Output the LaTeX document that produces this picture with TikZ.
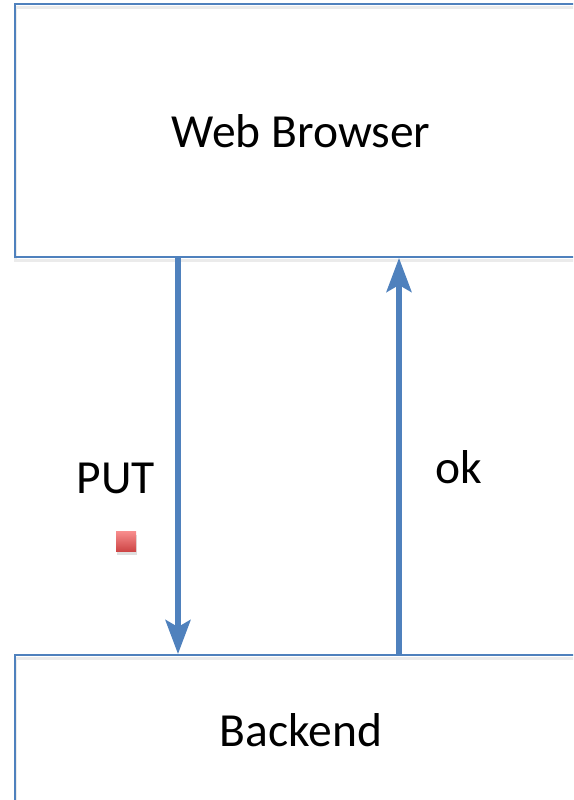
\documentclass[tikz,border=0pt]{standalone}
\usepackage{fontspec}
\setmainfont{Carlito}
\usetikzlibrary{arrows.meta,shadows}
\definecolor{boxblue}{RGB}{79,129,189}
\definecolor{tokentop}{RGB}{248,142,142}
\definecolor{tokenbot}{RGB}{206,70,70}
\tikzset{
  unit/.style={draw=boxblue, line width=2pt, inner sep=0pt, minimum width=573pt,
    preaction={draw=black!8, line width=3pt, transform canvas={shift={(1pt,-3pt)}}}},
  flow/.style={draw=boxblue, line width=5.5pt, -{Stealth[length=34pt,width=25pt,inset=7pt]}},
  token/.style={minimum size=20pt, inner sep=0pt, top color=tokentop, bottom color=tokenbot,
    drop shadow={opacity=0.25, shadow xshift=1pt, shadow yshift=-4pt}}
}

\begin{document}
\begin{tikzpicture}[x=1pt, y=-1pt, font=\fontsize{47.5}{56}\selectfont]
  \useasboundingbox (0,0) rectangle (573,800);
  \clip (0,0) rectangle (573,800);
  \node[unit, minimum height=252.5pt] (browser) at (301,130.75) {Web Browser};
  \node[unit, minimum height=150pt] (backend) at (301,730) {Backend};
  \draw[flow] ([xshift=-123pt]browser.south) -- ([xshift=-123pt]backend.north);
  \draw[flow] ([xshift=98pt]backend.north) -- ([xshift=98pt]browser.south);
  \node[anchor=base] (put) at (116,493) {PUT};
  \node[anchor=base] (ok) at (459,483) {ok};
  \node[token] (putmark) at (126,541) {};
\end{tikzpicture}
\end{document}
